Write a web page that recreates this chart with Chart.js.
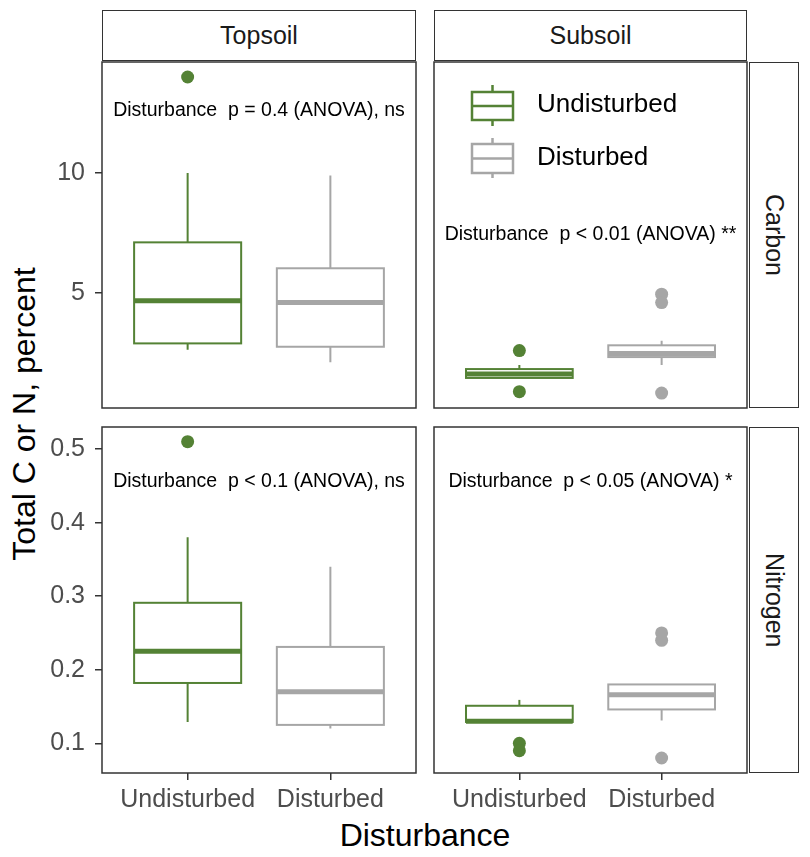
<!DOCTYPE html>
<html>
<head>
<meta charset="utf-8">
<script src="https://cdn.jsdelivr.net/npm/chart.js@4.4.1/dist/chart.umd.min.js"></script>
<style>
body { margin: 0; background: #fff; font-family: "Liberation Sans", Arial, sans-serif; }
#wrap { position: relative; width: 810px; height: 857px; overflow: hidden; }
canvas { position: absolute; left: 0; top: 0; }
.strip { position: absolute; box-sizing: border-box; border: 1.5px solid #333; background: #fff;
  display: flex; align-items: center; justify-content: center; font-size: 25px; color: #1a1a1a; }
.vert { writing-mode: vertical-rl; }
.title { position: absolute; font-size: 32px; color: #000; white-space: nowrap; }
</style>
</head>
<body>
<div id="wrap">
  <div class="strip" style="left:102px;top:10px;width:314px;height:51px">Topsoil</div>
  <div class="strip" style="left:434px;top:10px;width:313px;height:51px">Subsoil</div>
  <div class="strip vert" style="left:749px;top:62px;width:50px;height:346px">Carbon</div>
  <div class="strip vert" style="left:749px;top:427px;width:50px;height:346px">Nitrogen</div>
  <div class="title" style="left:425px;top:835px;transform:translate(-50%,-50%)">Disturbance</div>
  <div class="title" style="left:24px;top:414px;transform:translate(-50%,-50%) rotate(-90deg)">Total C or N, percent</div>
  <canvas id="tl" width="810" height="857"></canvas>
  <canvas id="tr" width="810" height="857"></canvas>
  <canvas id="bl" width="810" height="857"></canvas>
  <canvas id="br" width="810" height="857"></canvas>
</div>
<script>
const groups = ["Undisturbed", "Disturbed"];
const colors = ["#548235", "#A6A6A6"];
const carbonTicks = [5, 10];
const nitrogenTicks = [0.1, 0.2, 0.3, 0.4, 0.5];
const carbonRange = [0.208, 14.625];
const nitrogenRange = [0.0596, 0.530];

// boxes: [lower whisker, Q1, median, Q3, upper whisker] for Undisturbed, Disturbed
const topCarbonBox = [[2.63, 2.90, 4.68, 7.11, 10.0], [2.11, 2.76, 4.60, 6.03, 9.9]];
const subCarbonBox = [[1.46, 1.46, 1.62, 1.83, 2.0], [2.0, 2.33, 2.48, 2.82, 3.01]];
const topNitrogenBox = [[0.129, 0.182, 0.225, 0.291, 0.38], [0.12, 0.125, 0.170, 0.231, 0.34]];
const subNitrogenBox = [[0.129, 0.129, 0.13, 0.151, 0.159], [0.131, 0.146, 0.166, 0.18, 0.18]];

// outliers
const topCarbonOut = [[14.0], []];
const subCarbonOut = [[2.6, 0.89], [4.95, 4.6, 0.83]];
const topNitrogenOut = [[0.51], []];
const subNitrogenOut = [[0.1, 0.09], [0.25, 0.24, 0.08]];

const notes = [
  "Disturbance  p = 0.4 (ANOVA), ns",
  "Disturbance  p < 0.01 (ANOVA) **",
  "Disturbance  p < 0.1 (ANOVA), ns",
  "Disturbance  p < 0.05 (ANOVA) *"
];
const noteY = [12.6, 7.42, 0.456, 0.456];

const FONT = "Liberation Sans";

function boxPlugin(boxes, note, ny, legend) {
  return {
    id: "boxes",
    beforeDatasetsDraw(chart) {
      const ctx = chart.ctx, x = chart.scales.x, y = chart.scales.y;
      boxes.forEach((b, i) => {
        const xc = x.getPixelForValue(i + 1);
        const hw = x.getPixelForValue(i + 1 + 0.375) - xc;
        ctx.save();
        ctx.strokeStyle = colors[i];
        ctx.lineWidth = 2;
        ctx.beginPath();
        ctx.moveTo(xc, y.getPixelForValue(b[3]));
        ctx.lineTo(xc, y.getPixelForValue(b[4]));
        ctx.moveTo(xc, y.getPixelForValue(b[1]));
        ctx.lineTo(xc, y.getPixelForValue(b[0]));
        ctx.stroke();
        const top = y.getPixelForValue(b[3]), bot = y.getPixelForValue(b[1]);
        ctx.fillStyle = "#fff";
        ctx.fillRect(xc - hw, top, hw * 2, bot - top);
        ctx.strokeRect(xc - hw, top, hw * 2, bot - top);
        ctx.lineWidth = 5;
        ctx.beginPath();
        ctx.moveTo(xc - hw, y.getPixelForValue(b[2]));
        ctx.lineTo(xc + hw, y.getPixelForValue(b[2]));
        ctx.stroke();
        ctx.restore();
      });
    },
    afterDraw(chart) {
      const ctx = chart.ctx, ca = chart.chartArea, x = chart.scales.x, y = chart.scales.y;
      ctx.save();
      ctx.strokeStyle = "#333";
      ctx.lineWidth = 1.5;
      ctx.strokeRect(ca.left, ca.top, ca.right - ca.left, ca.bottom - ca.top);
      ctx.fillStyle = "#000";
      ctx.font = "19.5px '" + FONT + "'";
      ctx.textAlign = "center";
      ctx.textBaseline = "middle";
      ctx.fillText(note, x.getPixelForValue(1.5), y.getPixelForValue(ny));
      if (legend) {
        const keys = [[ca.top + 23, ca.top + 30, ca.top + 58, ca.top + 64, ca.top + 43],
                      [ca.top + 76, ca.top + 82, ca.top + 111, ca.top + 116, ca.top + 96]];
        keys.forEach((k, i) => {
          const l = ca.left + 38, w = 41, xc = l + w / 2;
          ctx.strokeStyle = colors[i];
          ctx.lineWidth = 2.5;
          ctx.beginPath();
          ctx.moveTo(xc, k[0]); ctx.lineTo(xc, k[1]);
          ctx.moveTo(xc, k[2]); ctx.lineTo(xc, k[3]);
          ctx.moveTo(l, (k[1] + k[2]) / 2); ctx.lineTo(l + w, (k[1] + k[2]) / 2);
          ctx.stroke();
          ctx.strokeRect(l, k[1], w, k[2] - k[1]);
          ctx.fillStyle = "#000";
          ctx.font = "26px '" + FONT + "'";
          ctx.textAlign = "left";
          ctx.fillText(groups[i], ca.left + 103, k[4]);
        });
      }
      ctx.restore();
    }
  };
}

function makePanel(id, boxes, outs, range, ticks, idx, showY, showX, rect, legend) {
  const tickFont = { family: FONT, size: 25 };
  new Chart(document.getElementById(id), {
    type: "scatter",
    data: {
      datasets: groups.map((g, i) => ({
        label: g,
        data: outs[i].map(v => ({ x: i + 1, y: v })),
        backgroundColor: colors[i],
        pointRadius: 6.5,
        pointHoverRadius: 6.5,
        borderWidth: 0
      }))
    },
    options: {
      responsive: false,
      animation: false,
      events: [],
      layout: {
        padding: {
          left: showY ? rect.l - 70 : rect.l,
          top: rect.t,
          right: 810 - rect.r,
          bottom: showX ? 857 - rect.b - 50 : 857 - rect.b
        }
      },
      plugins: { legend: { display: false }, tooltip: { enabled: false } },
      scales: {
        x: {
          type: "linear", min: 0.4, max: 2.6, display: showX,
          afterBuildTicks: s => { s.ticks = groups.map((g, i) => ({ value: i + 1 })); },
          afterFit: s => { if (showX) s.height = 50; },
          ticks: { callback: v => groups[v - 1], font: tickFont, color: "#4d4d4d", padding: 5, maxRotation: 0, autoSkip: false },
          grid: { drawOnChartArea: false, drawTicks: true, tickLength: 7, color: "#333", lineWidth: 1.5 },
          border: { display: false }
        },
        y: {
          min: range[0], max: range[1], display: showY,
          afterBuildTicks: s => { s.ticks = ticks.map(v => ({ value: v })); },
          afterFit: s => { if (showY) s.width = 70; },
          ticks: { callback: v => String(v), font: tickFont, color: "#4d4d4d", padding: 10 },
          grid: { drawOnChartArea: false, drawTicks: true, tickLength: 7, color: "#333", lineWidth: 1.5 },
          border: { display: false }
        }
      }
    },
    plugins: [boxPlugin(boxes, notes[idx], noteY[idx], legend)]
  });
}

makePanel("tl", topCarbonBox, topCarbonOut, carbonRange, carbonTicks, 0, true, false, { l: 102, t: 62, r: 416, b: 408 }, false);
makePanel("tr", subCarbonBox, subCarbonOut, carbonRange, carbonTicks, 1, false, false, { l: 434, t: 62, r: 747, b: 408 }, true);
makePanel("bl", topNitrogenBox, topNitrogenOut, nitrogenRange, nitrogenTicks, 2, true, true, { l: 102, t: 427, r: 416, b: 773 }, false);
makePanel("br", subNitrogenBox, subNitrogenOut, nitrogenRange, nitrogenTicks, 3, false, true, { l: 434, t: 427, r: 747, b: 773 }, false);
</script>
</body>
</html>
